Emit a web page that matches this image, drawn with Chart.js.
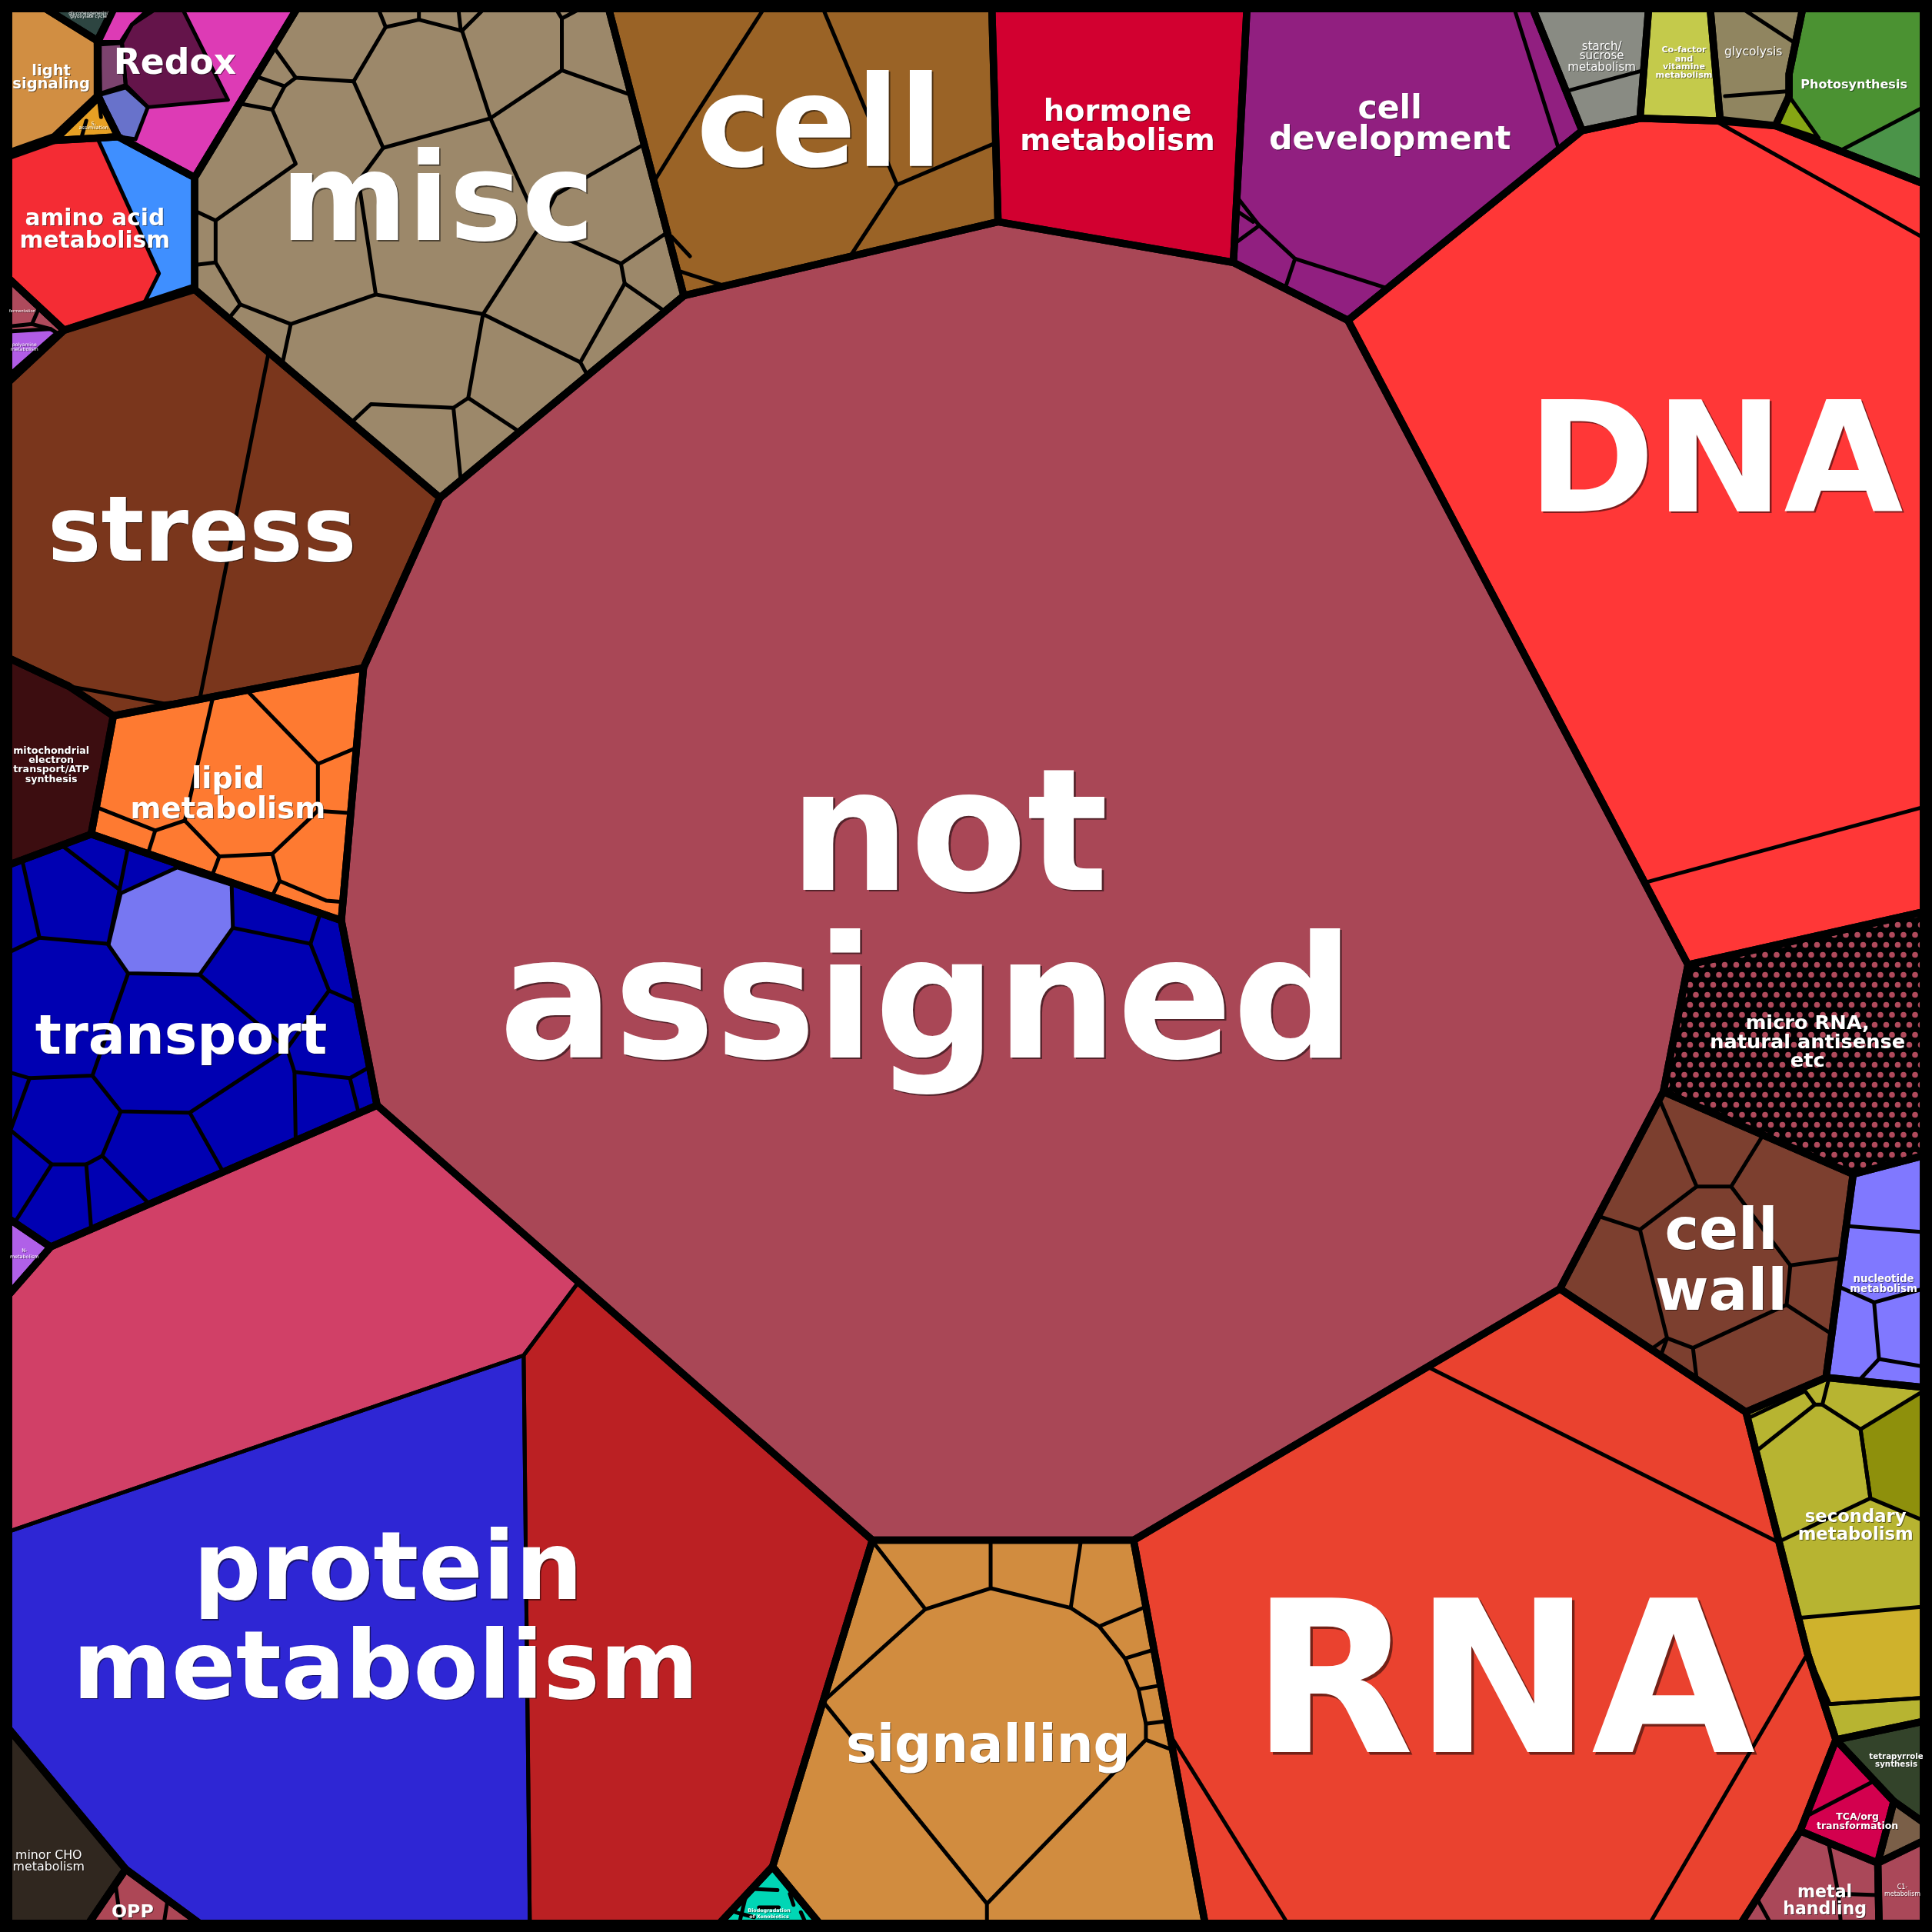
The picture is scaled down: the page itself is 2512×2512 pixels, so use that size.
<!DOCTYPE html>
<html>
<head>
<meta charset="utf-8">
<script src="https://cdn.jsdelivr.net/npm/chart.js@4.4.1/dist/chart.umd.min.js"></script>
<style>
  html, body { margin: 0; padding: 0; background: #000; }
  #wrap { width: 2512px; height: 2512px; }
</style>
</head>
<body>
<div id="wrap"><canvas id="voronoi" width="2512" height="2512"></canvas></div>
<script>
// Voronoi treemap of MapMan bins, vertices (0..1568 plane)
const SPAN = 1568;

const cellNames = [
  "not assigned", "DNA", "RNA", "protein metabolism", "signalling", "cell wall",
  "micro RNA, natural antisense etc", "nucleotide metabolism", "secondary metabolism",
  "tetrapyrrole synthesis", "TCA/org transformation", "unassigned small", "metal handling",
  "C1-metabolism", "transport", "N-metabolism", "mitochondrial electron transport/ATP synthesis",
  "lipid metabolism", "stress", "amino acid metabolism", "fermentation", "light signaling",
  "gluconeogenesis/glyoxylate cycle", "S-assimilation", "Redox", "misc", "cell",
  "hormone metabolism", "cell development", "starch/sucrose metabolism",
  "Co-factor and vitamine metabolism", "glycolysis", "Photosynthesis", "minor CHO metabolism",
  "OPP", "Biodegradation of Xenobiotics",
];

const cellColors = [
  "#A94756", "#FF3737", "#EA422F", "#D14067", "#D18C3F", "#7C3F2F",
  "dots", "#8078FF", "#B7B431",
  "#33432A", "#D3004E", "#7A5F48", "#AA4859",
  "#AA4859", "#0000B2", "#B060E8", "#3C0D10",
  "#FE7A31", "#7A361C", "#F42C34", "#AE4A5C", "#D18E42",
  "#2D4541", "#E6A024", "#DD3BB5", "#9C886A", "#9A6326",
  "#D20030", "#911F80", "#898B83",
  "#C4CA4B", "#908560", "#4B9232", "#30271F",
  "#AD4756", "#00D6B5",
];

const cellOutlines = [
  [[555,240],[810,180],[1001,213],[1094,260],[1370,783],[1350,886],[1266,1046],[920,1250],[708,1250],[306,897],[277,747],[295,542],[357,404]],
  [[1094,260],[1284,106],[1331,96],[1392,98],[1441,102],[1561,149],[1561,740],[1370,783]],
  [[920,1250],[1266,1046],[1417,1146],[1444,1252],[1467,1342],[1490,1412],[1461,1486],[1413,1561],[978,1561]],
  [[41,1012],[306,897],[708,1250],[627,1515],[584,1561],[162,1561],[102,1517],[7,1403],[7,1051]],
  [[708,1250],[920,1250],[978,1561],[665,1561],[627,1515]],
  [[1350,886],[1504,953],[1482,1118],[1417,1146],[1266,1046]],
  [[1370,783],[1561,740],[1561,938],[1504,953],[1350,886]],
  [[1504,953],[1561,938],[1561,1126],[1482,1118]],
  [[1417,1146],[1482,1118],[1561,1126],[1561,1397],[1490,1412],[1467,1342],[1444,1252]],
  [[1490,1412],[1561,1397],[1561,1479],[1537,1462]],
  [[1490,1412],[1537,1462],[1524,1512],[1461,1486]],
  [[1537,1462],[1561,1479],[1561,1494],[1524,1512]],
  [[1461,1486],[1524,1512],[1525,1561],[1413,1561]],
  [[1524,1512],[1561,1494],[1561,1561],[1525,1561]],
  [[74,677],[277,747],[306,897],[41,1012],[7,989],[7,702]],
  [[7,989],[41,1012],[7,1051]],
  [[7,534],[56,557],[92,581],[74,677],[7,702]],
  [[92,581],[295,542],[277,747],[74,677]],
  [[7,310],[52,268],[158,235],[357,404],[295,542],[92,581],[56,557],[7,534]],
  [[7,127],[44,114],[79,112],[96,111],[158,144],[158,233],[52,268],[7,226]],
  [[7,226],[52,268],[7,310]],
  [[7,7],[37,7],[79,33],[79,78],[44,111],[7,124]],
  [[37,7],[92,7],[79,33]],
  [[44,114],[80,79],[96,111],[79,112]],
  [[92,7],[241,7],[158,144],[96,111],[80,79],[79,33]],
  [[241,7],[494,7],[555,240],[357,404],[158,235],[158,144]],
  [[494,7],[805,7],[810,180],[555,240]],
  [[805,7],[1012,7],[1001,213],[810,180]],
  [[1012,7],[1244,7],[1284,106],[1094,260],[1001,213]],
  [[1244,7],[1338,7],[1331,96],[1284,106]],
  [[1338,7],[1388,7],[1396,97],[1392,98],[1331,96]],
  [[1388,7],[1463,7],[1452,60],[1452,78],[1441,102],[1396,97]],
  [[1463,7],[1561,7],[1561,149],[1441,102],[1452,78],[1452,60]],
  [[7,1403],[102,1517],[72,1561],[7,1561]],
  [[102,1517],[162,1561],[72,1561]],
  [[627,1515],[665,1561],[584,1561]],
];

// sub-bins that carry their own colour
const subCellColors = [
  "#D14067", "#2E26D4", "#BB2023", "#7777F2", "#3F8FFF",
  "#DD3BB5", "#7C436E", "#64144A", "#6872CB",
  "#86A614", "#4B9449", "#8E900C", "#CFB22C", "#B15CE6",
];

const subCellOutlines = [
  [[41,1012],[306,897],[470,1040],[425,1100],[7,1243],[7,1051]],
  [[7,1243],[425,1100],[430,1561],[162,1561],[102,1517],[7,1403]],
  [[470,1040],[708,1250],[627,1515],[584,1561],[430,1561],[425,1100]],
  [[98,725],[144,704],[188,718],[189,753],[162,791],[104,790],[88,767]],
  [[79,112],[96,111],[158,144],[158,233],[117,246],[129,222]],
  [[94,7],[121,7],[107,20],[98,34],[81,34]],
  [[81,36],[99,35],[102,69],[81,76]],
  [[107,20],[127,7],[148,7],[185,81],[120,87],[102,69],[99,35]],
  [[81,77],[102,71],[120,87],[110,113],[96,111]],
  [[1443,101],[1452,78],[1476,112]],
  [[1494,122],[1561,87],[1561,149]],
  [[1510,1160],[1561,1129],[1561,1234],[1518,1216]],
  [[1461,1313],[1561,1304],[1561,1378],[1485,1383],[1467,1342]],
  [[7,269],[41,267],[46,270],[12,300],[7,304]],
];

// thin inner borders between sub-bins
const subLines = [
  // misc
  [[307,7],[313,22],[340,16],[375,25],[398,96],[456,57],[456,15],[471,7]],
  [[340,16],[340,7]], [[372,7],[374,25]], [[375,25],[393,7]], [[456,15],[451,7]],
  [[313,22],[287,66],[240,63],[222,38]],
  [[287,66],[311,120],[398,96]],
  [[240,63],[231,70],[221,89],[240,133],[175,179],[158,171]],
  [[231,70],[208,62]], [[221,89],[194,84]],
  [[311,120],[291,147],[305,239],[236,263],[195,247],[175,213],[175,179]],
  [[175,213],[158,215]], [[195,247],[186,258]], [[236,263],[229,296]],
  [[305,239],[392,255],[380,323],[368,331],[301,328],[285,343]],
  [[368,331],[374,390]], [[380,323],[421,350]],
  [[392,255],[438,184],[398,96]],
  [[438,184],[504,214],[507,230],[471,294],[477,305]],
  [[392,255],[471,294]], [[504,214],[541,189]], [[507,230],[540,253]],
  [[456,57],[512,77]], [[438,184],[451,158],[523,117]],
  // cell
  [[620,7],[562,97],[531,147]], [[668,7],[728,150],[690,208]], [[728,150],[808,116]],
  [[545,192],[560,208]], [[551,220],[588,232]],
  // cell development
  [[1229,7],[1265,121]], [[1004,160],[1022,183],[1051,210],[1126,234]],
  [[1051,210],[1043,234]], [[1022,183],[1003,197]], [[1005,172],[1017,180]],
  // starch, glycolysis, DNA
  [[1271,74],[1334,57]], [[1414,7],[1457,35]], [[1400,78],[1452,74]],
  [[1392,98],[1561,193]], [[1336,716],[1561,655]],
  // signalling
  [[709,1252],[751,1306],[804,1289],[804,1252]],
  [[804,1289],[869,1305],[877,1252]],
  [[869,1305],[892,1320],[913,1346],[924,1371],[930,1399],[930,1412],[801,1545],[801,1561]],
  [[751,1306],[668,1381],[801,1545]],
  [[892,1320],[930,1304]], [[913,1346],[936,1339]], [[924,1371],[941,1368]],
  [[930,1399],[946,1397]], [[930,1412],[951,1420]],
  // RNA
  [[1160,1110],[1444,1252]], [[949,1407],[1045,1561]], [[1339,1561],[1467,1342]],
  // cell wall
  [[1348,895],[1377,963],[1405,963],[1431,921]],
  [[1377,963],[1331,998],[1297,987]],
  [[1405,963],[1453,1027],[1495,1021]],
  [[1453,1027],[1450,1059],[1487,1083]],
  [[1450,1059],[1374,1094]],
  [[1331,998],[1353,1086],[1374,1094],[1377,1119]],
  [[1353,1086],[1340,1095]], [[1353,1086],[1348,1100]],
  // nucleotide
  [[1498,995],[1561,1000]], [[1494,1045],[1521,1057],[1561,1046]],
  [[1521,1057],[1525,1103],[1561,1109]], [[1525,1103],[1510,1119]],
  // secondary
  [[1421,1150],[1465,1129],[1473,1140],[1479,1140],[1484,1120]],
  [[1473,1140],[1425,1178]],
  [[1479,1140],[1510,1160],[1518,1216],[1444,1251]],
  [[1485,1383],[1561,1378]],
  // TCA, metal handling
  [[1520,1446],[1466,1474]],
  [[1484,1496],[1492,1537],[1524,1538]], [[1492,1537],[1494,1561]], [[1426,1541],[1437,1561]],
  // lipid
  [[173,565],[150,666]],
  [[200,560],[258,620],[258,658],[221,693],[178,695],[150,666],[126,674],[78,655]],
  [[126,674],[120,693]], [[258,620],[289,607]], [[258,658],[285,660]],
  [[221,693],[227,715],[221,727]], [[227,715],[265,731],[278,732]], [[178,695],[172,711]],
  // transport
  [[18,698],[32,761],[7,773]], [[50,686],[97,722],[88,766]], [[97,722],[104,687]],
  [[32,761],[88,766]], [[104,790],[75,873],[24,875],[7,870]],
  [[189,753],[252,766],[267,804],[290,814]], [[252,766],[260,741]],
  [[267,804],[233,851],[239,870],[284,875],[300,866]],
  [[239,870],[240,926]], [[284,875],[291,903]],
  [[162,791],[233,851]], [[75,873],[98,902],[154,903],[233,851]],
  [[154,903],[181,951]], [[98,902],[83,938],[121,977]],
  [[83,938],[70,945],[74,997]], [[70,945],[42,945],[12,992]],
  [[42,945],[7,916]], [[24,875],[9,916]],
  // stress
  [[218,286],[162,568]], [[56,557],[133,571],[162,568]],
  // small bins on the left
  [[7,265],[26,263],[32,249]], [[26,263],[41,267]],
  [[70,98],[66,112]], [[80,79],[82,95]],
  [[94,1531],[98,1561]], [[136,1542],[133,1561]], [[94,1531],[102,1517]],
  // xenobiotics
  [[611,1533],[631,1534]], [[641,1537],[644,1546]], [[605,1540],[600,1561]],
  [[616,1548],[632,1548]], [[650,1552],[654,1561]], [[597,1552],[612,1556]],
];

// label text, one entry per printed line
const labelLines = [
  "not", "assigned", "DNA", "RNA", "misc", "cell", "stress", "protein", "metabolism",
  "signalling", "transport", "lipid", "metabolism", "amino acid", "metabolism", "Redox",
  "light", "signaling", "hormone", "metabolism", "cell", "development", "cell", "wall",
  "micro RNA,", "natural antisense", "etc", "nucleotide", "metabolism", "secondary", "metabolism",
  "tetrapyrrole", "synthesis", "TCA/org", "transformation", "metal", "handling",
  "C1-", "metabolism", "starch/", "sucrose", "metabolism", "Co-factor", "and", "vitamine",
  "metabolism", "glycolysis", "Photosynthesis", "gluconeogenesis/", "glyoxylate cycle",
  "S-", "assimilation", "fermentation", "polyamine", "metabolism", "N-", "metabolism",
  "mitochondrial", "electron", "transport/ATP", "synthesis", "minor CHO", "metabolism",
  "OPP", "Biodegradation", "of Xenobiotics",
];

// [centre x, baseline y] of each label line
const labelAnchors = [
  [770,722],[752,858],[1392,415],[1220,1422],[355,195],[665,135],[164,455],[315,1298],[313,1378],
  [802,1430],[147,855],[185,640],[185,664],[77,183],[77,201],[142,60],
  [41.6,61],[41.6,72],[907,98],[907,122],[1128,96],[1128,121],[1397,1014],[1397,1063],
  [1467,835],[1467,851],[1467,866],[1528.7,1040.5],[1528.7,1048.8],[1506,1235.3],[1506,1249.7],
  [1539,1427.5],[1539,1434],[1507.5,1477],[1507.5,1484.4],[1481,1540],[1481,1553.7],
  [1544,1533],[1544,1538.5],[1300,40.6],[1300,48.3],[1300,57.2],[1366.7,42.7],[1366.7,49.9],[1366.7,56.2],
  [1366.7,62.8],[1423,44.7],[1504.7,71.8],[71.8,11.9],[71.8,14.6],
  [76,101.5],[76,105],[18,253.4],[19.8,281],[19.8,284.4],[19.8,1016],[19.8,1021],
  [41.6,611.8],[41.6,619.1],[41.6,627],[41.6,634.8],[39.5,1508.7],[39.5,1518],
  [107.6,1556],[624.2,1551.8],[624.2,1556.8],
];

const labelSizes = [
  138,138,125,172,99,102,73,77,77,
  42,44.5,24,24,18.5,18.5,28.5,
  12.2,12.2,24,24,26.6,26.6,47,47,
  16,16,16,8.3,8.3,14.2,14.2,
  6.4,6.4,7.8,7.8,13.8,13.8,
  5,5,9.4,9.4,9.4,7,7,7,
  7,9.7,10,3.7,3.7,
  4,4,3.3,3.8,3.8,4,4,
  7.9,7.9,7.9,7.9,9.9,9.9,
  14.8,4,4,
];

const labelBold = labelLines.map((_, i) => ![37, 38, 39, 40, 41, 46, 48, 49, 50, 51, 52, 53, 54, 55, 56, 61, 62].includes(i));

const toPoints = (vertices, closed) => {
  const list = closed ? [...vertices, vertices[0]] : vertices;
  return list.map(([x, y]) => ({ x, y }));
};

const lineDataset = (vertices, closed, width, order, fillColor, label) => ({
  label,
  data: toPoints(vertices, closed),
  showLine: true,
  borderColor: "#000000",
  borderWidth: width,
  borderJoinStyle: "round",
  borderCapStyle: "round",
  pointRadius: 0,
  pointHoverRadius: 0,
  tension: 0,
  order,
  fillColor,
});

const datasets = [];
cellOutlines.forEach((poly, i) => datasets.push(lineDataset(poly, true, 9.5, 0, cellColors[i], cellNames[i])));
subCellOutlines.forEach((poly, i) => datasets.push(lineDataset(poly, true, 5, 1, subCellColors[i], "sub")));
subLines.forEach((line) => datasets.push(lineDataset(line, false, 5, 1, null, "edge")));

const crearPatronPuntos = (ctx) => {
  const tile = document.createElement("canvas");
  tile.width = 30;
  tile.height = 26;
  const t = tile.getContext("2d");
  t.fillStyle = "#000000";
  t.fillRect(0, 0, 30, 26);
  t.fillStyle = "#B04A5C";
  [[7.5, 6.5], [22.5, 6.5], [0, 19.5], [15, 19.5], [30, 19.5]].forEach(([x, y]) => {
    t.beginPath();
    t.arc(x, y, 3.8, 0, Math.PI * 2);
    t.fill();
  });
  return ctx.createPattern(tile, "repeat");
};

const polygonFill = {
  id: "polygonFill",
  beforeDatasetsDraw(chart) {
    const ctx = chart.ctx;
    const dots = crearPatronPuntos(ctx);
    ctx.save();
    chart.data.datasets.forEach((ds, i) => {
      if (!ds.fillColor) return;
      const pts = chart.getDatasetMeta(i).data;
      ctx.beginPath();
      pts.forEach((p, k) => (k ? ctx.lineTo(p.x, p.y) : ctx.moveTo(p.x, p.y)));
      ctx.closePath();
      ctx.fillStyle = ds.fillColor === "dots" ? dots : ds.fillColor;
      ctx.fill();
    });
    ctx.restore();
  },
};

const binLabels = {
  id: "binLabels",
  afterDatasetsDraw(chart) {
    const { ctx, scales } = chart;
    const unit = chart.chartArea.width / SPAN;
    ctx.save();
    ctx.textAlign = "center";
    ctx.textBaseline = "alphabetic";
    labelLines.forEach((text, i) => {
      const px = labelSizes[i] * unit;
      const [ax, ay] = labelAnchors[i];
      ctx.font = `${labelBold[i] ? "bold " : ""}${px}px "DejaVu Sans", sans-serif`;
      const off = Math.max(1, px * 0.012);
      ctx.shadowColor = "rgba(0,0,0,0.5)";
      ctx.shadowOffsetX = off;
      ctx.shadowOffsetY = off;
      ctx.shadowBlur = 0;
      ctx.fillStyle = "#FFFFFF";
      ctx.fillText(text, scales.x.getPixelForValue(ax), scales.y.getPixelForValue(ay));
    });
    ctx.restore();
  },
  afterDraw(chart) {
    const ctx = chart.ctx;
    ctx.save();
    ctx.strokeStyle = "#000000";
    ctx.lineWidth = 24;
    ctx.strokeRect(0, 0, chart.width, chart.height);
    ctx.restore();
  },
};

new Chart(document.getElementById("voronoi"), {
  type: "scatter",
  data: { datasets },
  options: {
    responsive: false,
    devicePixelRatio: 1,
    animation: false,
    events: [],
    layout: { padding: 0 },
    scales: {
      x: { type: "linear", min: 0, max: SPAN, display: false },
      y: { type: "linear", min: 0, max: SPAN, reverse: true, display: false },
    },
    plugins: {
      legend: { display: false },
      tooltip: { enabled: false },
    },
  },
  plugins: [polygonFill, binLabels],
});
</script>
</body>
</html>
